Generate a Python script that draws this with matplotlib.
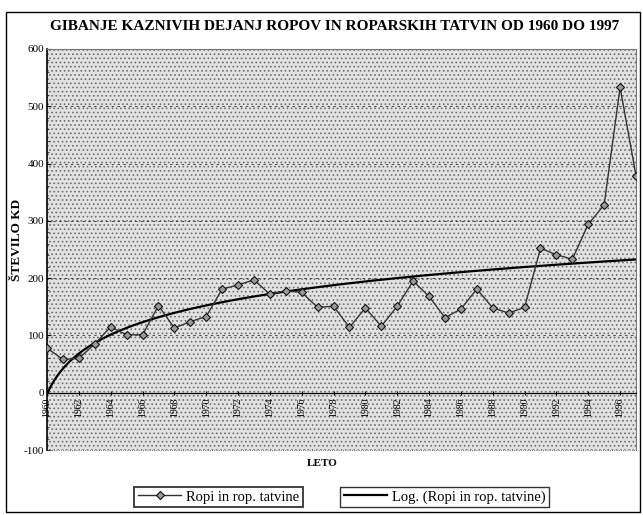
import numpy as np
import matplotlib
matplotlib.use("Agg")
import matplotlib.pyplot as plt
from matplotlib.patches import Rectangle

# Data (number of robbery offences per year)
years = list(range(1960, 1998))
ropi = [78, 58, 60, 85, 115, 101, 101, 152, 113, 124,
        133, 181, 188, 197, 172, 178, 175, 149, 151, 114,
        148, 116, 151, 195, 168, 131, 146, 181, 148, 139,
        149, 252, 241, 233, 294, 328, 533, 379]
tick_years = list(range(1960, 1997, 2))
y_ticks = [-100, 0, 100, 200, 300, 400, 500, 600]

title = "GIBANJE KAZNIVIH DEJANJ ROPOV IN ROPARSKIH TATVIN OD 1960 DO 1997"
series_name = "Ropi in rop. tatvine"
trend_name = "Log. (Ropi in rop. tatvine)"

plt.rcParams['font.family'] = ['Liberation Serif', 'DejaVu Serif']
plt.rcParams['hatch.linewidth'] = 0.7
plt.rcParams['axes.unicode_minus'] = False

# logarithmic trendline like Excel: y = a*ln(x) + b, x = 1..n
xs = np.arange(1, len(years) + 1)
a, b = np.polyfit(np.log(xs), ropi, 1)
x_fine = np.linspace(1, len(years), 300)
trend = a * np.log(x_fine) + b
trend_years = years[0] + x_fine - 1

fig = plt.figure(figsize=(6.43, 5.15), dpi=100)
ax = fig.add_axes([47 / 643, 1 - 450 / 515, 589 / 643, 401 / 515])

# stippled background of the plot area
ax.set_facecolor('#e2e2e2')
ax.add_patch(Rectangle((0, 0), 1, 1, transform=ax.transAxes, facecolor='none',
                       edgecolor='#6e6e6e', hatch='....', lw=0, zorder=0))

ax.grid(axis='y', color='#333333', linestyle=(0, (3, 4)), lw=0.6, zorder=1)

ax.plot(years, ropi, color='#333333', lw=1.0, marker='D', markersize=3.6,
        markerfacecolor='#9a9a9a', markeredgecolor='#111111', markeredgewidth=0.8,
        zorder=4, label=series_name)
ax.plot(trend_years, trend, color='black', lw=1.6, zorder=3, label=trend_name)

ax.set_xlim(1960, 1997)
ax.set_ylim(-100, 600)

ax.spines['bottom'].set_position(('data', 0))
ax.spines['bottom'].set_linewidth(0.9)
ax.spines['left'].set_linewidth(1.2)
for s in ['top', 'right']:
    ax.spines[s].set_color('#777777')
    ax.spines[s].set_linestyle((0, (1, 1)))
    ax.spines[s].set_linewidth(0.8)
# dotted lower border of the plot area
ax.plot([0, 1], [0, 0], transform=ax.transAxes, color='#777777',
        lw=0.8, linestyle=(0, (1, 1)), clip_on=False, zorder=2)

ax.set_yticks(y_ticks)
ax.set_yticks(range(-100, 601, 20), minor=True)
ax.set_xticks(tick_years)
ax.set_xticklabels([str(y) for y in tick_years])
ax.tick_params(axis='y', labelsize=8, length=3, width=0.8, direction='in', pad=2)
ax.tick_params(axis='y', which='minor', length=1.5, width=0.5, direction='in')
ax.tick_params(axis='x', labelsize=7, labelrotation=90, length=3, width=0.8,
               direction='inout', pad=2)

fig.text(0.52, 1 - 27 / 515, title, ha='center', va='center',
         fontsize=11, fontweight='bold')
fig.text(17 / 643, 1 - 240 / 515, "ŠTEVILO KD", rotation=90, ha='center',
         va='center', fontsize=9.5, fontweight='bold')
fig.text(322 / 643, 1 - 464 / 515, "LETO", ha='center', va='center',
         fontsize=8, fontweight='bold')

# two separate legend boxes
h1, l1 = ax.get_legend_handles_labels()
leg1 = fig.legend([h1[0]], [l1[0]], loc='center left',
                  bbox_to_anchor=(134 / 643, 1 - 497 / 515), fontsize=10.5,
                  frameon=True, fancybox=False, edgecolor='black',
                  handlelength=3, borderpad=0.25, handletextpad=0.3,
                  borderaxespad=0)
leg1.get_frame().set_linewidth(1.3)
leg2 = fig.legend([h1[1]], [l1[1]], loc='center left',
                  bbox_to_anchor=(340 / 643, 1 - 497 / 515), fontsize=10.5,
                  frameon=True, fancybox=False, edgecolor='black',
                  handlelength=3, borderpad=0.25, handletextpad=0.3,
                  borderaxespad=0)
leg2.get_frame().set_linewidth(1.0)

# outer frame of the whole chart
fig.patches.append(Rectangle((0.01, 0.006), 0.985, 0.97, transform=fig.transFigure,
                             facecolor='none', edgecolor='black', lw=1.0))

fig.savefig("out.png", dpi=100)
